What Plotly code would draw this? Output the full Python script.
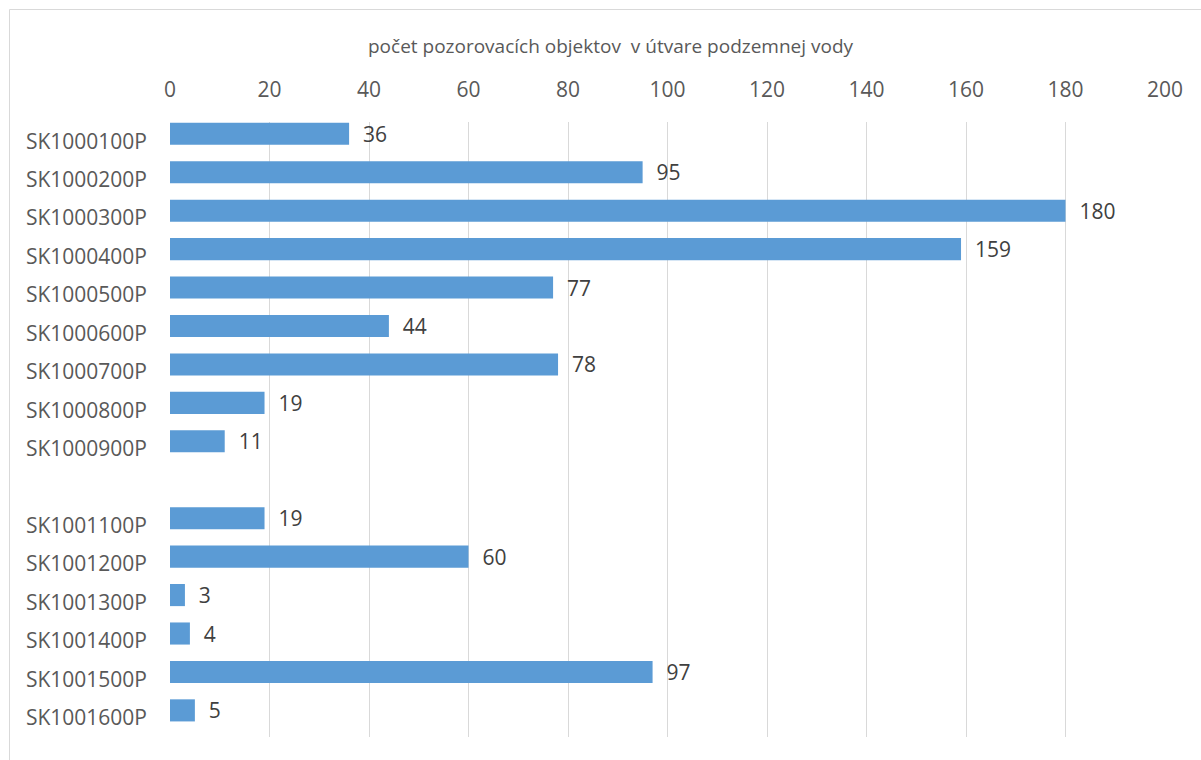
import plotly.graph_objects as go

categories = ["SK1000100P", "SK1000200P", "SK1000300P", "SK1000400P", "SK1000500P",
              "SK1000600P", "SK1000700P", "SK1000800P", "SK1000900P", "",
              "SK1001100P", "SK1001200P", "SK1001300P", "SK1001400P", "SK1001500P",
              "SK1001600P"]
values = [36, 95, 180, 159, 77, 44, 78, 19, 11, None, 19, 60, 3, 4, 97, 5]
x_ticks = [0, 20, 40, 60, 80, 100, 120, 140, 160, 180, 200]
title_text = "počet pozorovacích objektov  v útvare podzemnej vody"

positions = list(range(len(categories)))
FONT = "Open Sans"

fig = go.Figure()
fig.add_trace(go.Bar(
    x=values, y=positions, orientation="h",
    marker=dict(color="#5B9BD5", line=dict(width=0)),
    width=0.575, offset=-0.48,
    text=[("" if v is None else "  " + str(v)) for v in values],
    textposition="outside", cliponaxis=False, constraintext="none",
    textfont=dict(family=FONT, size=21, color="#404040"),
    hoverinfo="x+y",
))

fig.update_layout(
    width=1201, height=760,
    margin=dict(l=170, r=36, t=122, b=23),
    paper_bgcolor="white", plot_bgcolor="white",
    showlegend=False,
    uniformtext=dict(mode=False),
    xaxis=dict(
        side="top", range=[0, 200], tickvals=x_ticks,
        showgrid=True, gridcolor="#D9D9D9", gridwidth=1,
        zeroline=False, showline=False, ticks="",
        ticklabelstandoff=20,
        tickfont=dict(family=FONT, size=21, color="#595959"),
    ),
    yaxis=dict(
        range=[15.5, -0.5], tickvals=positions, ticktext=categories,
        showgrid=False, zeroline=False, showline=False, ticks="",
        ticklabelstandoff=22,
        tickfont=dict(family=FONT, size=21, color="#595959"),
    ),
    annotations=[dict(
        text=title_text, xref="paper", yref="paper",
        x=(611 - 170) / 995, y=(737 - 46) / 615,
        xanchor="center", yanchor="middle", showarrow=False,
        font=dict(family=FONT, size=19, color="#595959"),
    )],
    shapes=[dict(
        type="rect", xref="paper", yref="paper",
        x0=(9.5 - 170) / 995, x1=1.2, y0=-0.2, y1=(737 - 9.5) / 615,
        line=dict(color="#D9D9D9", width=1), layer="below",
    )],
)

fig.write_html("out.html")
